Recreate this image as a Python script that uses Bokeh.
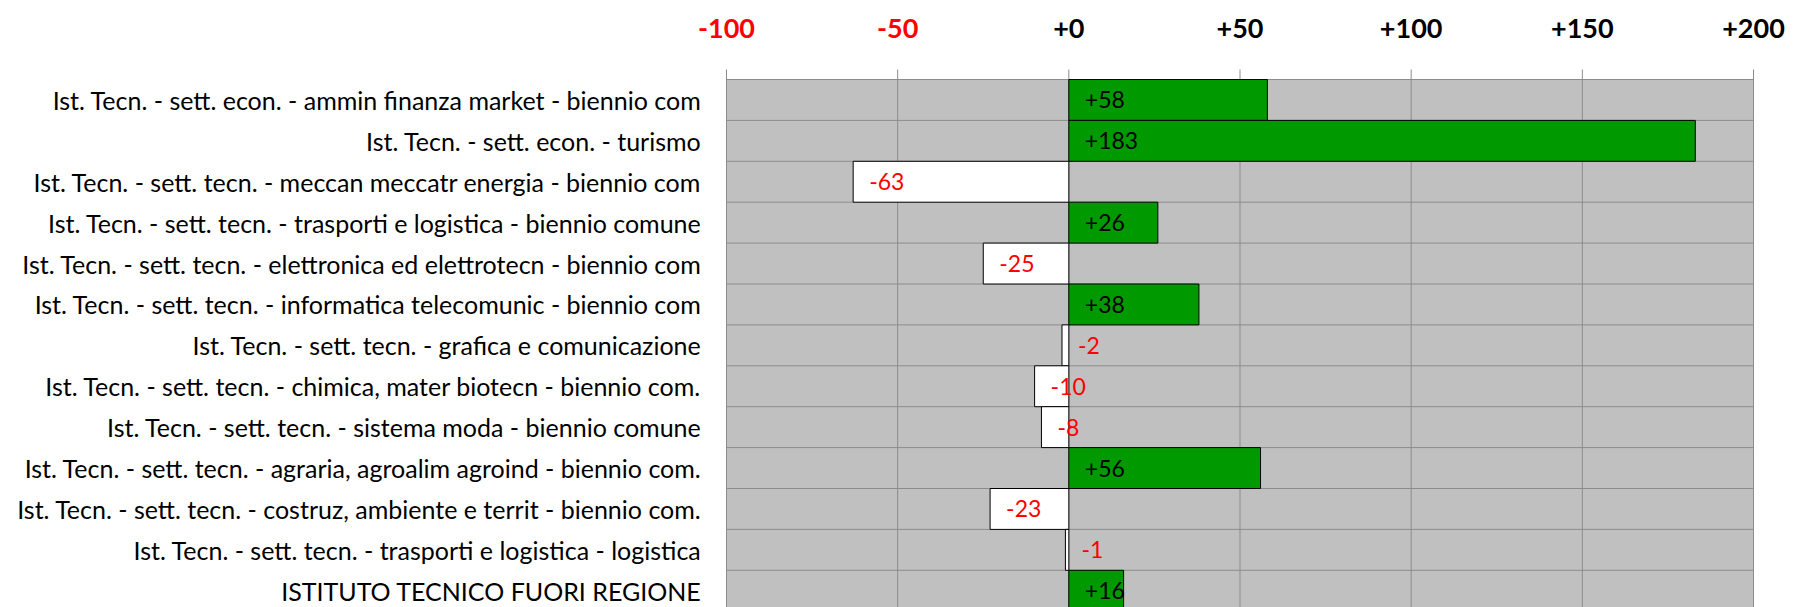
from bokeh.plotting import figure
from bokeh.models import Range1d, ColumnDataSource
from bokeh.core.properties import value
from bokeh.embed import file_html
from bokeh.resources import INLINE

# ---- data ----
categories = [
    "Ist. Tecn. - sett. econ. - ammin finanza market - biennio com",
    "Ist. Tecn. - sett. econ. - turismo",
    "Ist. Tecn. - sett. tecn. - meccan meccatr energia - biennio com",
    "Ist. Tecn. - sett. tecn. - trasporti e logistica - biennio comune",
    "Ist. Tecn. - sett. tecn. - elettronica ed elettrotecn - biennio com",
    "Ist. Tecn. - sett. tecn. - informatica telecomunic - biennio com",
    "Ist. Tecn. - sett. tecn. - grafica e comunicazione",
    "Ist. Tecn. - sett. tecn. - chimica, mater biotecn - biennio com.",
    "Ist. Tecn. - sett. tecn. - sistema moda - biennio comune",
    "Ist. Tecn. - sett. tecn. - agraria, agroalim agroind - biennio com.",
    "Ist. Tecn. - sett. tecn. - costruz, ambiente e territ - biennio com.",
    "Ist. Tecn. - sett. tecn. - trasporti e logistica - logistica",
    "ISTITUTO TECNICO FUORI REGIONE",
]
values = [58, 183, -63, 26, -25, 38, -2, -10, -8, 56, -23, -1, 16]
x_ticks = [-100, -50, 0, 50, 100, 150, 200]
x_tick_labels = ["-100", "-50", "+0", "+50", "+100", "+150", "+200"]

# ---- style / layout (pixels) ----
WIDTH, HEIGHT = 1793, 607
AREA_LEFT, AREA_W, AREA_TOP = 726, 1027, 79
ROW_PX = 40.9
TICK_LEN = 10
TICK_LABEL_Y = 27.5
GREEN, RED, GRID, BG = "#009900", "#FF0000", "#8C8C8C", "#C0C0C0"
FONT = "Lato"

x0, x1 = x_ticks[0], x_ticks[-1]
ppu = AREA_W / (x1 - x0)
x_range = Range1d(x0 - AREA_LEFT / ppu, x1 + (WIDTH - AREA_LEFT - AREA_W) / ppu)

def y_of(px):  # page pixel row -> data y (row i centred at y = i)
    return -0.5 + (px - AREA_TOP) / ROW_PX

y_range = Range1d(y_of(HEIGHT), y_of(0))  # inverted: first category on top

p = figure(
    width=WIDTH, height=HEIGHT, output_backend="svg", toolbar_location=None,
    x_range=x_range, y_range=y_range,
    x_axis_location=None, y_axis_location=None,
    min_border_left=0, min_border_right=0, min_border_top=0, min_border_bottom=0,
)
p.outline_line_color = None
p.xgrid.visible = False
p.ygrid.visible = False
p.background_fill_color = "white"
p.border_fill_color = "white"

n = len(categories)
idx = list(range(n))
top, bottom = -0.5, n - 0.5

# plot area
p.quad(left=[x0], right=[x1], top=[top], bottom=[bottom],
       fill_color=BG, line_color=None)

# horizontal separators between categories
seps = [i - 0.5 for i in range(n + 1)]
p.segment(x0=[x0] * len(seps), x1=[x1] * len(seps), y0=seps, y1=seps,
          line_color=GRID, line_width=1)

# vertical grid lines + outward tick marks
tick_top = y_of(AREA_TOP - TICK_LEN)
p.segment(x0=x_ticks, x1=x_ticks, y0=[tick_top] * len(x_ticks),
          y1=[bottom] * len(x_ticks), line_color=GRID, line_width=1)

src = ColumnDataSource(dict(
    y=idx,
    cat=categories,
    x_cat=[x0] * n,
    left=[min(v, 0) for v in values],
    right=[max(v, 0) for v in values],
    fill=[GREEN if v > 0 else "white" for v in values],
    lab=[f"{v:+d}" for v in values],
    lab_color=["#000000" if v > 0 else RED for v in values],
))

p.hbar(y="y", left="left", right="right", height=1.0, source=src,
       fill_color="fill", line_color="black", line_width=1)

# value labels
p.text(x="left", y="y", text="lab", source=src, x_offset=16,
       text_align="left", text_baseline="middle",
       text_font=value(FONT), text_font_size="23px", text_color="lab_color")

# category labels (left of the plot area)
p.text(x="x_cat", y="y", text="cat", source=src, x_offset=-25,
       text_align="right", text_baseline="middle",
       text_font=value(FONT), text_font_size="25px", text_color="#000000")

# coloured tick labels above the plot area
hsrc = ColumnDataSource(dict(
    x=x_ticks, lab=x_tick_labels,
    col=[RED if t < 0 else "#000000" for t in x_ticks],
    y=[y_of(TICK_LABEL_Y)] * len(x_ticks),
))
p.text(x="x", y="y", text="lab", source=hsrc,
       text_align="center", text_baseline="middle",
       text_font=value(FONT), text_font_style="bold",
       text_font_size="27px", text_color="col")

open("out.html", "w").write(file_html(p, INLINE))
